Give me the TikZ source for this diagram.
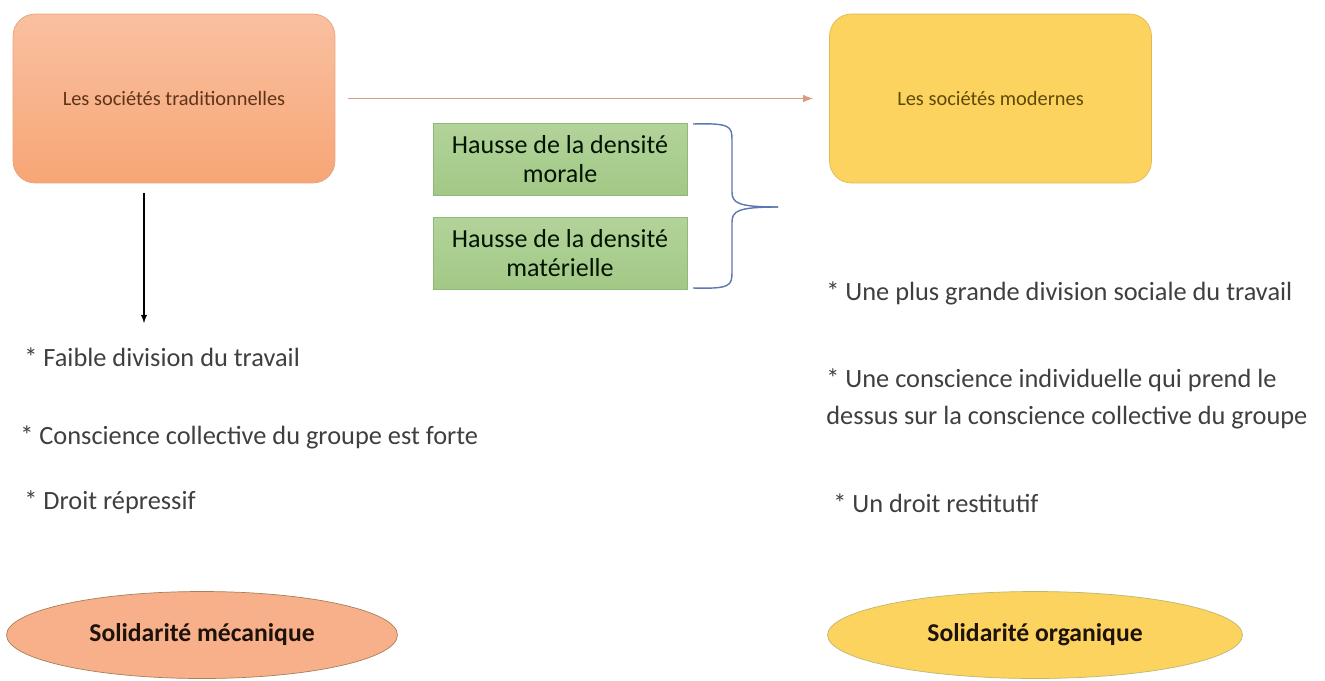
\documentclass[tikz,border=0pt]{standalone}
\usepackage{fontspec}
\setmainfont{Carlito}
\usetikzlibrary{shapes.geometric}
\definecolor{orfill}{HTML}{F8B08A}
\definecolor{ortop}{HTML}{F9C0A0}
\definecolor{orbot}{HTML}{F7A676}
\definecolor{ordraw}{HTML}{E9A37E}
\definecolor{yefill}{HTML}{FCD35F}
\definecolor{yedraw}{HTML}{E2B850}
\definecolor{grtop}{HTML}{B2D39A}
\definecolor{grbot}{HTML}{A2C886}
\definecolor{grdraw}{HTML}{90B878}
\definecolor{brblue}{HTML}{5B78B5}
\definecolor{artan}{HTML}{D99C7C}
\definecolor{txgray}{HTML}{3F3F3F}
\definecolor{txbrown}{HTML}{5E3419}
\definecolor{txolive}{HTML}{5E4A08}
\tikzset{
  socbox/.style={rounded corners=0.44cm,minimum width=6.44cm,minimum height=3.38cm,font=\fontsize{11.6}{14}\selectfont},
  densbox/.style={draw=grdraw,top color=grtop,bottom color=grbot,minimum width=5.08cm,minimum height=1.44cm,
    align=center,inner sep=0pt,text=black!80!green!40!black,font=\fontsize{14.8}{16.5}\selectfont},
  solid/.style={ellipse,minimum height=1.74cm,font=\bfseries\fontsize{14.6}{17}\selectfont,text=black!85!brown},
  item/.style={anchor=west,text=txgray,align=left,inner sep=0pt,font=\fontsize{15}{21}\selectfont}
}
\begin{document}
\begin{tikzpicture}[>=latex,x=0.02cm,y=-0.02cm]
\useasboundingbox[fill=white] (0,0) rectangle (1325,680);
% les deux types de societes
\node[socbox,draw=ordraw,top color=ortop,bottom color=orbot,text=txbrown] (trad) at (174,98.5) {Les sociétés traditionnelles};
\node[socbox,draw=yedraw,fill=yefill,text=txolive] (mod) at (990.5,98.5) {Les sociétés modernes};
\draw[->,artan,line width=1pt,shorten <=0.26cm,shorten >=0.32cm] (trad.east) -- (mod.west);
% les deux densites
\node[densbox] (morale) at (560,159) {Hausse de la densité\\morale};
\node[densbox] (materielle) at (560,253.5) {Hausse de la densité\\matérielle};
\coordinate (btop) at (693,124);
\coordinate (bbot) at (693,288);
\coordinate (btip) at (778,207);
\draw[brblue,thick] (btop) .. controls (730,123) and (732,126) .. (732,140) -- (732,192)
   .. controls (732,203) and (738,207) .. (btip);
\draw[brblue,thick] (bbot) .. controls (730,289) and (732,286) .. (732,272) -- (732,222)
   .. controls (732,211) and (738,207) .. (btip);
% societes traditionnelles
\coordinate (down) at (144,323);
\draw[->,semithick,shorten <=0.2cm] (trad.south -| down) -- (down);
\node[item] (t1) at (24,357) {* Faible division du travail};
\node[item] (t2) at (20,437) {* Conscience collective du groupe est forte};
\node[item] (t3) at (24,502) {* Droit répressif};
% societes modernes
\node[item] (m1) at (826,293) {* Une plus grande division sociale du travail};
\node[item] (m2) at (826,399) {* Une conscience individuelle qui prend le\\dessus sur la conscience collective du groupe};
\node[item] (m3) at (833,503) {* Un droit restitutif};
% solidarites
\node[solid,draw=brown!60!gray,fill=orfill,minimum width=7.82cm] (meca) at (202,635) {Solidarité mécanique};
\node[solid,draw=yellow!40!gray,fill=yefill,minimum width=8.3cm] (orga) at (1035,635) {Solidarité organique};
\end{tikzpicture}
\end{document}
